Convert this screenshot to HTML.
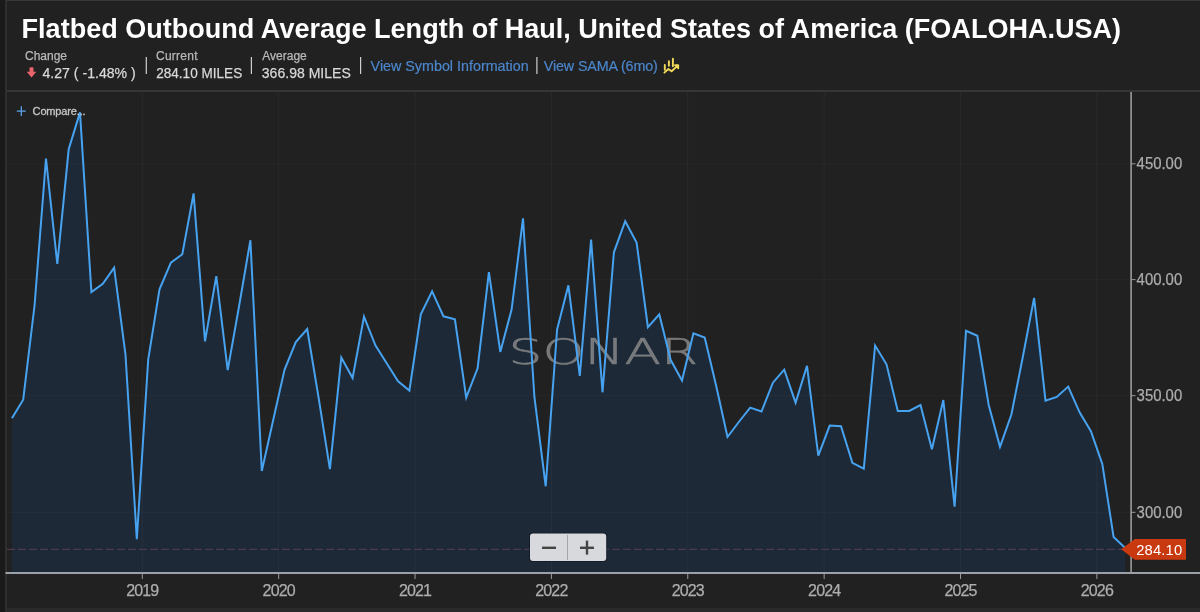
<!DOCTYPE html>
<html><head><meta charset="utf-8">
<style>
*{margin:0;padding:0;box-sizing:border-box}
html,body{width:1200px;height:612px;overflow:hidden;background:#212121;font-family:"Liberation Sans",Arial,sans-serif}
#lstrip{position:absolute;left:0;top:0;width:5px;height:612px;background:#1a1a1a}
#lline{position:absolute;left:5px;top:0;width:2px;height:612px;background:#2e2e2e}
#tline{position:absolute;left:7px;top:0;width:1193px;height:1px;background:#383838}
#hline{position:absolute;left:7px;top:90px;width:1193px;height:2px;background:#363636}
#bline{position:absolute;left:7px;top:608px;width:1193px;height:4px;background:#2a2a2a}
svg{position:absolute;left:0;top:0}
.gh{stroke:#fff;stroke-opacity:0.028;stroke-width:1}
.gv{stroke:#fff;stroke-opacity:0.04;stroke-width:1}
.tk{stroke:#9a9a9a;stroke-width:1}
.xl{font-family:"Liberation Sans",Arial,sans-serif;font-size:16px;fill:#adadad;stroke:#adadad;stroke-width:0.25px}
.yl{font-family:"Liberation Sans",Arial,sans-serif;font-size:16.4px;fill:#adadad;stroke:#adadad;stroke-width:0.25px}
</style></head><body>
<div id="lstrip"></div><div id="lline"></div><div id="tline"></div>
<svg width="1200" height="92" viewBox="0 0 1200 92" style="left:0;top:0">
<text x="21.6" y="38" font-family="Liberation Sans,Arial,sans-serif" font-weight="bold" font-size="27.5" fill="#fff" textLength="1099.5" lengthAdjust="spacingAndGlyphs">Flatbed Outbound Average Length of Haul, United States of America (FOALOHA.USA)</text>
<g font-family="Liberation Sans,Arial,sans-serif" font-size="12" fill="#b8b8b8" stroke="#b8b8b8" stroke-width="0.25">
<text x="25" y="60.1" textLength="42">Change</text>
<text x="156" y="60.2" textLength="41.5">Current</text>
<text x="262.3" y="60.2" textLength="44.5">Average</text>
</g>
<path d="M30.5 67.2h2q1 0 1 1v3.6h2.8L31.5 77.4 26.7 71.8h2.8v-3.6q0-1 1-1z" fill="#e8646c"/>
<g font-family="Liberation Sans,Arial,sans-serif" font-size="15" fill="#d8d8d8" stroke="#d8d8d8" stroke-width="0.25">
<text x="42.5" y="77.7" textLength="93.2" lengthAdjust="spacingAndGlyphs">4.27 ( -1.48% )</text>
<text x="156.2" y="77.8" textLength="86" lengthAdjust="spacingAndGlyphs">284.10 MILES</text>
<text x="261.8" y="77.6" textLength="89" lengthAdjust="spacingAndGlyphs">366.98 MILES</text>
</g>
<g fill="#cfcfcf"><rect x="145.7" y="57" width="1.2" height="17"/><rect x="250.8" y="57" width="1.2" height="17"/><rect x="360" y="57" width="1.2" height="17"/><rect x="536.3" y="57" width="1.2" height="17"/></g>
<g font-family="Liberation Sans,Arial,sans-serif" font-size="14.3" fill="#4b86cc" stroke="#4b86cc" stroke-width="0.2">
<text x="370.6" y="71.4" textLength="158">View Symbol Information</text>
<text x="543.8" y="71.4" textLength="114">View SAMA (6mo)</text>
</g>
<g stroke="#f2d95a" stroke-width="1.9" fill="none" stroke-linecap="round" stroke-linejoin="round">
<path d="M664.8 69.8V65M668.9 65.8V61.2M672.9 66.3V58.7"/><path d="M664.4 72.6L668.4 69L671.6 71.3L678 65.4M675 65.2H678.2V68.3"/></g>
</svg>

<div id="hline"></div>
<svg width="1200" height="612" viewBox="0 0 1200 612">
<path d="M11.9,418.3 L23.2,399.7 L34.6,305.0 L46.0,158.5 L57.3,264.0 L68.7,149.3 L80.0,112.4 L91.4,292.0 L102.8,283.7 L114.1,267.6 L125.5,354.6 L136.8,539.1 L148.2,359.5 L159.5,289.4 L170.9,262.7 L182.3,254.3 L193.6,193.4 L205.0,341.4 L216.3,276.1 L227.7,370.2 L239.1,306.0 L250.4,240.2 L261.8,471.0 L273.1,420.5 L284.5,369.9 L295.8,342.1 L307.2,329.0 L318.6,397.6 L329.9,469.2 L341.3,357.5 L352.6,378.0 L364.0,316.6 L375.4,345.4 L386.7,363.3 L398.1,381.3 L409.4,390.5 L420.8,314.3 L432.1,291.4 L443.5,316.3 L454.9,319.3 L466.2,397.7 L477.6,368.3 L488.9,272.2 L500.3,351.9 L511.6,309.5 L523.0,218.3 L534.4,397.0 L545.7,486.3 L557.1,329.5 L568.4,285.3 L579.8,375.8 L591.1,239.5 L602.5,392.3 L613.9,252.3 L625.2,221.2 L636.6,242.5 L647.9,327.2 L659.3,314.4 L670.7,360.1 L682.0,380.6 L693.4,333.3 L704.7,337.5 L716.1,385.4 L727.5,437.0 L738.8,422.0 L750.2,407.6 L761.5,411.5 L772.9,382.7 L784.2,369.7 L795.6,402.7 L807.0,365.8 L818.3,455.6 L829.7,425.6 L841.0,426.2 L852.4,462.8 L863.8,468.7 L875.1,345.5 L886.5,364.3 L897.8,410.9 L909.2,410.9 L920.5,405.0 L931.9,449.3 L943.3,400.0 L954.6,506.7 L966.0,330.8 L977.3,335.8 L988.7,405.0 L1000.0,446.8 L1011.4,414.5 L1022.8,357.0 L1034.1,297.9 L1045.5,400.6 L1056.8,396.9 L1068.2,386.6 L1079.6,412.3 L1090.9,431.2 L1102.3,463.9 L1113.6,537.1 L1125.0,547.7 L1125.0,572 L11.9,572 Z" fill="#1d2937"/>
<line x1="7" y1="163.8" x2="1131" y2="163.8" class="gh"/><line x1="7" y1="279.6" x2="1131" y2="279.6" class="gh"/><line x1="7" y1="395.7" x2="1131" y2="395.7" class="gh"/><line x1="7" y1="512.3" x2="1131" y2="512.3" class="gh"/><line x1="142.3" y1="92" x2="142.3" y2="572" class="gv"/><line x1="278.67" y1="92" x2="278.67" y2="572" class="gv"/><line x1="415.04" y1="92" x2="415.04" y2="572" class="gv"/><line x1="551.4100000000001" y1="92" x2="551.4100000000001" y2="572" class="gv"/><line x1="687.78" y1="92" x2="687.78" y2="572" class="gv"/><line x1="824.1500000000001" y1="92" x2="824.1500000000001" y2="572" class="gv"/><line x1="960.52" y1="92" x2="960.52" y2="572" class="gv"/><line x1="1096.89" y1="92" x2="1096.89" y2="572" class="gv"/>
<text x="508.6" y="363.8" font-family="DejaVu Sans,sans-serif" font-weight="200" font-size="34.8" fill="#8c8c8c" fill-opacity="0.8" stroke="#8c8c8c" stroke-opacity="0.7" stroke-width="0.6" textLength="189.5" lengthAdjust="spacingAndGlyphs">SONAR</text>
<line x1="7" y1="549.3" x2="1122" y2="549.3" stroke="#4b3b50" stroke-width="1.2" stroke-dasharray="8 3"/>
<path d="M11.9,418.3 L23.2,399.7 L34.6,305.0 L46.0,158.5 L57.3,264.0 L68.7,149.3 L80.0,112.4 L91.4,292.0 L102.8,283.7 L114.1,267.6 L125.5,354.6 L136.8,539.1 L148.2,359.5 L159.5,289.4 L170.9,262.7 L182.3,254.3 L193.6,193.4 L205.0,341.4 L216.3,276.1 L227.7,370.2 L239.1,306.0 L250.4,240.2 L261.8,471.0 L273.1,420.5 L284.5,369.9 L295.8,342.1 L307.2,329.0 L318.6,397.6 L329.9,469.2 L341.3,357.5 L352.6,378.0 L364.0,316.6 L375.4,345.4 L386.7,363.3 L398.1,381.3 L409.4,390.5 L420.8,314.3 L432.1,291.4 L443.5,316.3 L454.9,319.3 L466.2,397.7 L477.6,368.3 L488.9,272.2 L500.3,351.9 L511.6,309.5 L523.0,218.3 L534.4,397.0 L545.7,486.3 L557.1,329.5 L568.4,285.3 L579.8,375.8 L591.1,239.5 L602.5,392.3 L613.9,252.3 L625.2,221.2 L636.6,242.5 L647.9,327.2 L659.3,314.4 L670.7,360.1 L682.0,380.6 L693.4,333.3 L704.7,337.5 L716.1,385.4 L727.5,437.0 L738.8,422.0 L750.2,407.6 L761.5,411.5 L772.9,382.7 L784.2,369.7 L795.6,402.7 L807.0,365.8 L818.3,455.6 L829.7,425.6 L841.0,426.2 L852.4,462.8 L863.8,468.7 L875.1,345.5 L886.5,364.3 L897.8,410.9 L909.2,410.9 L920.5,405.0 L931.9,449.3 L943.3,400.0 L954.6,506.7 L966.0,330.8 L977.3,335.8 L988.7,405.0 L1000.0,446.8 L1011.4,414.5 L1022.8,357.0 L1034.1,297.9 L1045.5,400.6 L1056.8,396.9 L1068.2,386.6 L1079.6,412.3 L1090.9,431.2 L1102.3,463.9 L1113.6,537.1 L1125.0,547.7" fill="none" stroke="#47a2f0" stroke-width="2" stroke-linejoin="miter"/>
<line x1="5.5" y1="573" x2="1200" y2="573" stroke="#9ca0a8" stroke-width="2"/>
<line x1="1131.1" y1="92" x2="1131.1" y2="574" stroke="#9c9c9c" stroke-width="1.6"/>
<line x1="142.3" y1="574" x2="142.3" y2="579" class="tk"/><text x="126.2" y="596" class="xl" textLength="33">2019</text><line x1="278.67" y1="574" x2="278.67" y2="579" class="tk"/><text x="262.6" y="596" class="xl" textLength="33">2020</text><line x1="415.04" y1="574" x2="415.04" y2="579" class="tk"/><text x="398.9" y="596" class="xl" textLength="33">2021</text><line x1="551.4100000000001" y1="574" x2="551.4100000000001" y2="579" class="tk"/><text x="535.3" y="596" class="xl" textLength="33">2022</text><line x1="687.78" y1="574" x2="687.78" y2="579" class="tk"/><text x="671.7" y="596" class="xl" textLength="33">2023</text><line x1="824.1500000000001" y1="574" x2="824.1500000000001" y2="579" class="tk"/><text x="808.1" y="596" class="xl" textLength="33">2024</text><line x1="960.52" y1="574" x2="960.52" y2="579" class="tk"/><text x="944.4" y="596" class="xl" textLength="33">2025</text><line x1="1096.89" y1="574" x2="1096.89" y2="579" class="tk"/><text x="1080.8" y="596" class="xl" textLength="33">2026</text><line x1="1131" y1="163.8" x2="1135.5" y2="163.8" class="tk"/><text x="1136.6" y="169.2" class="yl" textLength="45.6" lengthAdjust="spacingAndGlyphs">450.00</text><line x1="1131" y1="279.6" x2="1135.5" y2="279.6" class="tk"/><text x="1136.6" y="285.0" class="yl" textLength="45.6" lengthAdjust="spacingAndGlyphs">400.00</text><line x1="1131" y1="395.7" x2="1135.5" y2="395.7" class="tk"/><text x="1136.6" y="401.1" class="yl" textLength="45.6" lengthAdjust="spacingAndGlyphs">350.00</text><line x1="1131" y1="512.3" x2="1135.5" y2="512.3" class="tk"/><text x="1136.6" y="517.7" class="yl" textLength="45.6" lengthAdjust="spacingAndGlyphs">300.00</text>
<path d="M1121.2,549.2 L1134.8,539 L1186,539 L1186,559.7 L1134.8,559.7 Z" fill="#c8390f"/>
<text x="1136.2" y="554.8" font-family="Liberation Sans,Arial,sans-serif" font-size="14.8" fill="#fff" textLength="46">284.10</text>
<g>
<rect x="529" y="532.5" width="78.2" height="29.5" rx="4" fill="#141925" fill-opacity="0.8"/><rect x="530" y="533.5" width="76.2" height="27.5" rx="3" fill="#d8d9dd"/>
<line x1="567.5" y1="535" x2="567.5" y2="560" stroke="#a5a6aa" stroke-width="1"/>
<rect x="542" y="546.6" width="14" height="2.4" fill="#454545"/>
<rect x="580" y="546.6" width="14" height="2.4" fill="#454545"/>
<rect x="585.8" y="540.6" width="2.4" height="14" fill="#454545"/>
</g>
<g stroke="#5aa2ea" stroke-width="1.3"><line x1="16.8" y1="111.1" x2="25.8" y2="111.1"/><line x1="21.3" y1="106.3" x2="21.3" y2="115.9"/></g>
<text x="32.6" y="114.7" font-family="Liberation Sans,Arial,sans-serif" font-size="11" fill="#c8c8c8" stroke="#c8c8c8" stroke-width="0.3" textLength="53">Compare...</text>
</svg>
<div id="bline"></div>
</body></html>
